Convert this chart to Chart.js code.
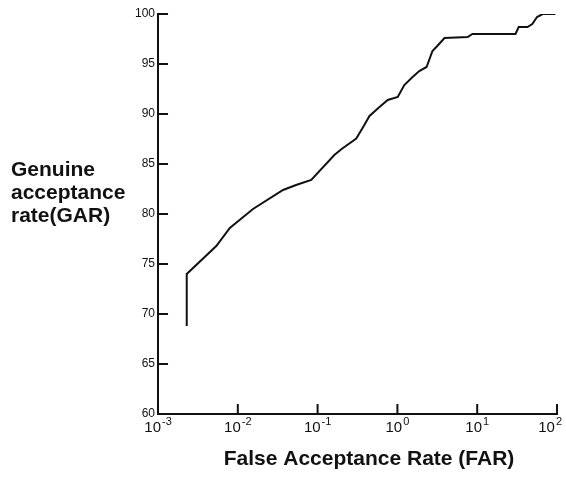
<!DOCTYPE html>
<html lang="en">
<head>
    <meta charset="UTF-8">
    <script src="https://cdn.jsdelivr.net/npm/chart.js@4.4.0/dist/chart.umd.min.js"></script>
    <title>GAR vs FAR</title>
    <style>
        body { margin: 0; background: #fff; }
        #wrap { width: 566px; height: 480px; }
    </style>
</head>
<body>
    <div id="wrap"><canvas id="myChart"></canvas></div>

    <script>
        // values
        const farValues = [0.00229, 0.00229, 0.00537, 0.00794, 0.0155, 0.0369, 0.0537, 0.0832, 0.162, 0.2,
                           0.305, 0.369, 0.447, 0.596, 0.757, 1.01, 1.22, 1.55, 1.88, 2.32,
                           2.75, 3.16, 3.89, 7.59, 8.7, 30.2, 33.1, 42.7, 49, 56.2, 66.1, 95.5];
        const garValues = [68.8, 74.0, 76.8, 78.6, 80.5, 82.4, 82.9, 83.4, 85.9, 86.5,
                           87.55, 88.65, 89.8, 90.7, 91.4, 91.7, 92.9, 93.7, 94.3, 94.7,
                           96.3, 96.8, 97.6, 97.7, 98.0, 98.0, 98.7, 98.7, 99.0, 99.7, 100, 100];
        const xTicks = [0.001, 0.01, 0.1, 1, 10, 100];
        const xExponents = ['-3', '-2', '-1', '0', '1', '2'];
        const yTicks = [60, 65, 70, 75, 80, 85, 90, 95, 100];
        const xTitle = 'False Acceptance Rate (FAR)';
        const yTitleLines = ['Genuine', 'acceptance', 'rate(GAR)'];

        const points = farValues.map((v, i) => ({ x: v, y: garValues[i] }));

        // inward tick marks, superscript x labels and both axis titles
        const axisMarks = {
            id: 'axisMarks',
            afterDraw(chart) {
                const ctx = chart.ctx;
                const x = chart.scales.x, y = chart.scales.y;
                const area = chart.chartArea;
                ctx.save();
                ctx.strokeStyle = '#111';
                ctx.lineWidth = 2;
                ctx.beginPath();
                yTicks.forEach(v => {
                    const py = y.getPixelForValue(v);
                    ctx.moveTo(area.left, py);
                    ctx.lineTo(area.left + 10, py);
                });
                xTicks.forEach(v => {
                    const px = x.getPixelForValue(v);
                    ctx.moveTo(px, area.bottom);
                    ctx.lineTo(px, area.bottom - 10);
                });
                ctx.stroke();

                ctx.fillStyle = '#111';
                ctx.textBaseline = 'alphabetic';
                ctx.textAlign = 'left';
                xTicks.forEach((v, i) => {
                    const px = x.getPixelForValue(v);
                    ctx.font = '15px "Liberation Sans", Arial, sans-serif';
                    const baseW = ctx.measureText('10').width;
                    ctx.font = '11px "Liberation Sans", Arial, sans-serif';
                    const expW = ctx.measureText(xExponents[i]).width;
                    const w = baseW + expW + 1;
                    // keep the last label inside the picture
                    const left = Math.min(px - w / 2, chart.width - 4 - w);
                    ctx.font = '15px "Liberation Sans", Arial, sans-serif';
                    ctx.fillText('10', left, area.bottom + 18);
                    ctx.font = '11px "Liberation Sans", Arial, sans-serif';
                    ctx.fillText(xExponents[i], left + baseW + 1, area.bottom + 11);
                });

                ctx.font = 'bold 21px "Liberation Sans", Arial, sans-serif';
                yTitleLines.forEach((t, i) => {
                    ctx.fillText(t, 11, 176 + i * 23);
                });
                ctx.textAlign = 'center';
                ctx.fillText(xTitle, 369, 465);
                ctx.restore();
            }
        };

        const ctx = document.getElementById('myChart').getContext('2d');
        const myChart = new Chart(ctx, {
            type: 'line',
            data: {
                datasets: [{
                    data: points,
                    borderColor: '#111',
                    borderWidth: 2,
                    pointRadius: 0,
                    tension: 0,
                    fill: false
                }]
            },
            options: {
                responsive: true,
                maintainAspectRatio: false,
                animation: false,
                layout: { padding: { left: 132, right: 9, top: 14, bottom: 66 } },
                plugins: { legend: { display: false }, tooltip: { enabled: false } },
                scales: {
                    x: {
                        type: 'logarithmic',
                        min: 0.001,
                        max: 100,
                        afterBuildTicks: scale => { scale.ticks = xTicks.map(v => ({ value: v })); },
                        grid: { display: false, drawTicks: false },
                        border: { display: true, color: '#111', width: 2 },
                        ticks: { display: false }
                    },
                    y: {
                        min: 60,
                        max: 100,
                        afterBuildTicks: scale => { scale.ticks = yTicks.map(v => ({ value: v })); },
                        grid: { display: false, drawTicks: false },
                        border: { display: true, color: '#111', width: 2 },
                        ticks: {
                            color: '#111',
                            padding: 3,
                            font: { family: '"Liberation Sans", Arial, sans-serif', size: 12 }
                        }
                    }
                }
            },
            plugins: [axisMarks]
        });
    </script>
</body>
</html>
